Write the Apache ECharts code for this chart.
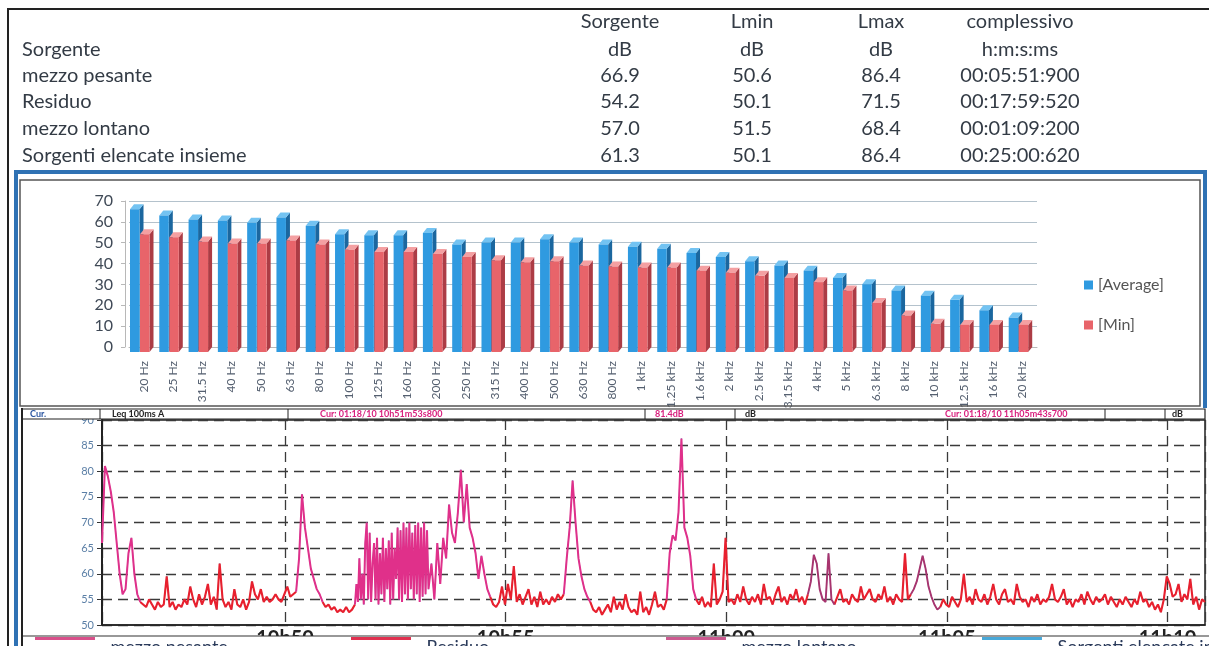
<!DOCTYPE html>
<html><head><meta charset="utf-8">
<script src="https://cdn.jsdelivr.net/npm/echarts@6/dist/echarts.min.js"></script>
<style>html,body{margin:0;padding:0;background:#fff}#c{width:1209px;height:646px}</style>
</head><body><div id="c"></div><script>
// ---------- summary table ----------
const tableHeadTop = ['Sorgente', 'Lmin', 'Lmax', 'complessivo'];
const tableHeadUnits = ['dB', 'dB', 'dB', 'h:m:s:ms'];
const tableFirstHead = 'Sorgente';
const sourceNames = ['mezzo pesante', 'Residuo', 'mezzo lontano', 'Sorgenti elencate insieme'];
const sourceLeq = ['66.9', '54.2', '57.0', '61.3'];
const sourceLmin = ['50.6', '50.1', '51.5', '50.1'];
const sourceLmax = ['86.4', '71.5', '68.4', '86.4'];
const sourceDuration = ['00:05:51:900', '00:17:59:520', '00:01:09:200', '00:25:00:620'];

// ---------- 1/3 octave spectrum ----------
const freqBands = ['20 Hz','25 Hz','31.5 Hz','40 Hz','50 Hz','63 Hz','80 Hz','100 Hz','125 Hz','160 Hz','200 Hz','250 Hz','315 Hz','400 Hz','500 Hz','630 Hz','800 Hz','1 kHz','1.25 kHz','1.6 kHz','2 kHz','2.5 kHz','3.15 kHz','4 kHz','5 kHz','6.3 kHz','8 kHz','10 kHz','12.5 kHz','16 kHz','20 kHz'];
const avgDb = [68.5,65.5,63.5,63,62,64.5,60.5,56.5,56,56,57,51.5,52.5,52.5,54,52.5,51.5,50.5,49.5,47.5,45.5,43.5,41.5,39,35.5,32.5,29.5,27,25,20,16.5];
const minDb = [56.5,55,53,52,52,53.5,51.5,49,48,48,47,45.5,44,43,43.5,41.5,41,40.5,40.5,39,38,36.5,35.5,33.5,29.5,23.5,17.5,13.5,13,13,13];
const spectrumTicks = [0, 70, 10];

// ---------- time history (seconds since 10h00, dB) ----------
const timeRange = [2751, 4251];
const levelTicks = [50, 90, 5];
const pesanteStart = [2751, 3015, 3095, 3195, 3379, 3519];
const pesanteStep = [4, 4, 2, 4, 4, 4];
const pesanteA = [66,81,79,76,72,66,60,56,57,64,67,60,56,54.5];
const pesanteB = [56.5,63,75.5,69,65,61,59,57,56,54.5];
const pesanteC = [54,58,54.5,63,55,60,54,66,70,55,68,54.5,62,66,55,67,54,64,56,67,54.5,65,57,66.5,54,68,55,65,59,69,55,68.5,54.5,70,56,69,55,70,57,68,55,69.5,56,70,54.5,69,55.5,70,56,68.5,57];
const pesanteD = [57,62,55,66,58,67,63,73.5,68,66,72,80.3,70,77.5,69,67,64,59,63.5,60,57,55.5];
const pesanteE = [56,63,69,78.2,70,63,59.5,57,55.5,54.5];
const pesanteF = [55,64,67.5,66.5,72,86.4,69,67,63.5,57,55];

const residuoStart = [2803, 3051, 3279, 3415, 3559, 3747, 3891];
const residuoStep = [4, 4, 4, 4, 4, 4, 4];
const residuoA = [54.5,54,53.5,55,54,53,54.5,53.5,54,59.5,53.5,54.5,53,54,53.5,55,54,57.5,55,53.5,56,54,55.5,58,54,55.5,53,62,55,53.5,54.5,53,57,54,53.5,55,53,54.5,58.5,56,55,57,54.5,55.5,54.5,55,56,55,54.5,56,57.5,55.5,56,56.5];
const residuoB = [54.5,53.5,54,53,53.5,52.5,53,52.5,53.5,52.5,53,54];
const residuoC = [55.5,54,53.5,54.5,57.5,54,58,55,61.5,54.5,56,54,55.5,57,54,55.5,53.5,56.5,54,55,54,55.5,54.5,56,55,56];
const residuoD = [54.5,53,52.5,53.5,52,53,54,52.5,55.5,53,54.5,53,56,53.5,52.5,53,52,56.5,52.5,53.5,52,54,56.5,53.5,54,53,55];
const residuoE = [55,54,55.5,53.5,54.5,53.5,62,54,55,56.5,67,54.5,55,54,56,54.5,57.5,55,54,55.5,54.5,56,54,58,55,55.5,54,56,57.5,54.5,55.5,54,56,55,57,54.5,55.5,54,56];
const residuoF = [54,55.5,57,54.5,55,54,56,55,54.5,57.5,55,56,57,55,54.5,56,55,57.5,54.5,55.5,54,56,55,54.5,64,55,56];
const residuoG = [53.5,55,54,53.5,55.5,54.5,53.5,55,60,54.5,55.5,54,57,55,54.5,56,54,55.5,58,55,54,56,57,54.5,55,54,58,55.5,54.5,55,53.5,55.5,54.5,56,54,55,54.5,55.5,58,55,54.5,55.5,57,54,55,53.5,55,54.5,56,54,56.5,55,54,55.5,54.5,55,56,54,55.5,54.5,53.5,55,54,55.5,54.5,53.5,55,54,56.5,54.5,55,53.5,54.5,53,54,52.5,55,59.5,58,55.5,56,58,54.5,56,55,59,54,55.5,53,55,54.5];

const lontanoStart = [3711, 3851];
const lontanoStep = [4, 4];
const lontanoA = [56,58.5,63.7,62,57,55,54.5,64,55,54];
const lontanoB = [56,57,58.5,61,63.5,61,57.5,55.5,54,53,53.5];

const seriesNames = ['mezzo pesante', 'Residuo', 'mezzo lontano', 'Sorgenti elencate insieme'];

// ---------- helpers ----------
function buildSeries(starts, steps, segs) {
  const out = [];
  segs.forEach((vals, k) => {
    vals.forEach((v, i) => out.push([starts[k] + i * steps[k], v]));
    out.push([starts[k] + (vals.length - 1) * steps[k] + 0.5, null]);
  });
  return out;
}
const pesanteData = buildSeries(pesanteStart, pesanteStep, [pesanteA, pesanteB, pesanteC, pesanteD, pesanteE, pesanteF]);
const residuoData = buildSeries(residuoStart, residuoStep, [residuoA, residuoB, residuoC, residuoD, residuoE, residuoF, residuoG]);
const lontanoData = buildSeries(lontanoStart, lontanoStep, [lontanoA, lontanoB]);
const allData = pesanteData.concat(residuoData, lontanoData).filter(p => p[1] != null).sort((a, b) => a[0] - b[0]);

function make3dBar(colors, offFront, wFront) {
  return function (params, api) {
    const i = api.value(0), v = api.value(1);
    const top = api.coord([i, v]);
    const base = api.coord([i, 0]);
    const band = api.size([1, 0])[0];
    const dx = 4, dy = 5;
    const x0 = top[0] - band / 2 - dx + offFront;
    const w = wFront;
    const ty = top[1] + dy, by = base[1] + dy;
    return { type: 'group', children: [
      { type: 'polygon', shape: { points: [[x0 + w, ty], [x0 + w + dx, ty - dy], [x0 + w + dx, by - dy], [x0 + w, by]] }, style: { fill: colors.side } },
      { type: 'polygon', shape: { points: [[x0, ty], [x0 + w, ty], [x0 + w + dx, ty - dy], [x0 + dx, ty - dy]] }, style: { fill: colors.top } },
      { type: 'rect', shape: { x: x0, y: ty, width: w, height: by - ty }, style: { fill: colors.front } }
    ]};
  };
}

const FONT = 'Lato, "Noto Sans", sans-serif';
const TXT = '#333b45';

// ---------- graphic: table + frames ----------
const g = [];
const colX = [620, 752, 881, 1020];
const rowY = [22, 50, 76, 102, 129, 156];
function txt(x, y, s, align) {
  g.push({ type: 'text', x: x, y: y, z: 20,
    style: { text: s, fill: TXT, font: '20px ' + FONT, textAlign: align, textVerticalAlign: 'middle' } });
}
tableHeadTop.forEach((s, k) => txt(colX[k], rowY[0], s, 'center'));
txt(22, rowY[1], tableFirstHead, 'left');
tableHeadUnits.forEach((s, k) => txt(colX[k], rowY[1], s, 'center'));
sourceNames.forEach((s, r) => {
  txt(22, rowY[r + 2], s, 'left');
  txt(colX[0], rowY[r + 2], sourceLeq[r], 'center');
  txt(colX[1], rowY[r + 2], sourceLmin[r], 'center');
  txt(colX[2], rowY[r + 2], sourceLmax[r], 'center');
  txt(colX[3], rowY[r + 2], sourceDuration[r], 'center');
});
// frames
g.push({ type: 'polyline', z: 20, shape: { points: [[8, 646], [8, 9], [1209, 9]] }, style: { stroke: '#222', lineWidth: 2, fill: null } });
g.push({ type: 'polyline', z: 20, shape: { points: [[16, 646], [16, 172], [1205, 172], [1205, 408]] }, style: { stroke: '#2f72b4', lineWidth: 4, fill: null } });
g.push({ type: 'rect', z: 1, shape: { x: 20, y: 180, width: 1180, height: 226 }, style: { stroke: '#555', lineWidth: 1.5, fill: null } });
g.push({ type: 'line', z: 20, shape: { x1: 22, y1: 408, x2: 22, y2: 646 }, style: { stroke: '#222', lineWidth: 2 } });
// header strip of the time-history panel
g.push({ type: 'rect', z: 15, shape: { x: 22, y: 409, width: 1183, height: 10 }, style: { stroke: '#222', lineWidth: 1.2, fill: '#fff' } });
[100, 288, 645, 735, 1105, 1165].forEach(x => g.push({ type: 'line', z: 16, shape: { x1: x, y1: 409, x2: x, y2: 419 }, style: { stroke: '#222', lineWidth: 1 } }));
const stripText = [[30, 'Cur.', '#2a55a0'], [112, 'Leq 100ms A', '#222'], [320, 'Cur: 01:18/10 10h51m53s800', '#d8207e'], [655, '81.4dB', '#d8207e'], [745, 'dB', '#222'], [945, 'Cur: 01:18/10 11h05m43s700', '#d8207e'], [1172, 'dB', '#222']];
stripText.forEach(t => g.push({ type: 'text', z: 17, x: t[0], y: 414, style: { text: t[1], fill: t[2], font: 'bold 9px ' + FONT, textVerticalAlign: 'middle' } }));
// bottom legend strip (cuts the time labels)
g.push({ type: 'rect', z: 15, shape: { x: 23, y: 636, width: 1186, height: 12 }, style: { fill: '#fff', stroke: null } });
g.push({ type: 'line', z: 16, shape: { x1: 22, y1: 636, x2: 1209, y2: 636 }, style: { stroke: '#333', lineWidth: 1.2 } });

// ---------- chart ----------
const chart = echarts.init(document.getElementById('c'), null, { renderer: 'canvas' });
const colPesante = '#e0308a', colResiduo = '#e8202e', colLontano = '#a8346e', colTutte = '#3a9ad8';
const legendIconColors = ['#d8508a', '#e03050', '#cc5a90', '#48a8d8'];
const legendPos = [35, 351, 666, 982];
const bottomLegends = seriesNames.map((n, k) => ({
  data: [n], left: legendPos[k], top: 637, padding: 0, z: 30,
  icon: 'path://M0,0h60v3h-60z M0,20h0.01v0.01h-0.01z',
  itemWidth: 63, itemHeight: 20, selectedMode: false,
  itemStyle: { color: legendIconColors[k], borderWidth: 0 },
  textStyle: { fontFamily: FONT, fontSize: 18, color: '#2a3a5a', padding: [0, 0, 0, 9] }
}));

chart.setOption({
  animation: false,
  backgroundColor: '#fff',
  graphic: { elements: g },
  legend: [{
    data: ['[Average]', '[Min]'], orient: 'vertical', left: 1079, top: 272, itemGap: 24,
    itemWidth: 9, itemHeight: 9, icon: 'rect', selectedMode: false,
    textStyle: { fontFamily: FONT, fontSize: 16, color: '#555' }
  }].concat(bottomLegends),
  grid: [
    { left: 129, right: 172, top: 201, bottom: 299, outerBoundsMode: 'none', containLabel: false },
    { left: 102, right: 4, top: 420, bottom: 21, outerBoundsMode: 'none', containLabel: false, show: true, borderColor: '#222', borderWidth: 1.5, backgroundColor: 'transparent' }
  ],
  xAxis: [
    { type: 'category', gridIndex: 0, data: freqBands, offset: 5,
      axisLine: { lineStyle: { color: '#b8b8b8' } },
      axisTick: { alignWithLabel: false, lineStyle: { color: '#b8b8b8' }, length: 4 },
      axisLabel: { rotate: 90, interval: 0, fontSize: 12, color: '#556070', fontFamily: FONT, margin: 9 } },
    { type: 'value', gridIndex: 1, min: timeRange[0], max: timeRange[1], splitNumber: 5,
      axisLine: { lineStyle: { color: '#222', width: 1.5 } },
      axisTick: { show: false },
      axisLabel: { showMinLabel: false, showMaxLabel: false, fontSize: 20, fontWeight: 'bold', color: '#222', fontFamily: FONT, margin: 4,
        formatter: v => (10 + Math.floor(v / 3600)) + 'h' + String(Math.floor((v % 3600) / 60)).padStart(2, '0') },
      splitLine: { show: true, lineStyle: { color: '#3a3a3a', width: 1.3, type: [10, 6] } } }
  ],
  yAxis: [
    { type: 'value', gridIndex: 0, min: spectrumTicks[0], max: spectrumTicks[1], interval: spectrumTicks[2], offset: 4,
      axisLine: { show: true, lineStyle: { color: '#b8b8b8' } },
      axisTick: { show: true, length: 4, lineStyle: { color: '#b8b8b8' } },
      axisLabel: { fontSize: 16, color: '#3f4956', fontFamily: FONT, margin: 12, padding: [10, 0, 0, 0] },
      splitLine: { lineStyle: { color: '#b4c2cc', width: 1 } } },
    { type: 'value', gridIndex: 1, min: levelTicks[0], max: levelTicks[1], interval: levelTicks[2],
      axisLine: { show: true, lineStyle: { color: '#222', width: 2 } },
      axisTick: { show: true, length: 5, lineStyle: { color: '#333' } },
      axisLabel: { fontSize: 11, color: '#5b7fa6', fontFamily: FONT, margin: 8 },
      splitLine: { show: true, lineStyle: { color: '#3a3a3a', width: 1.3, type: [10, 6] } } }
  ],
  series: [
    { name: '[Average]', type: 'custom', xAxisIndex: 0, yAxisIndex: 0, itemStyle: { color: '#2f9ae0' },
      renderItem: make3dBar({ front: '#2f9ae0', side: '#1b679f', top: '#73c3f2' }, 5, 9.5),
      encode: { x: 0, y: 1 }, data: avgDb.map((v, i) => [i, v]) },
    { name: '[Min]', type: 'custom', xAxisIndex: 0, yAxisIndex: 0, itemStyle: { color: '#e8646a' },
      renderItem: make3dBar({ front: '#e8646a', side: '#ac3c45', top: '#f4a0a2' }, 15, 9.5),
      encode: { x: 0, y: 1 }, data: minDb.map((v, i) => [i, v]) },
    { name: seriesNames[3], type: 'line', xAxisIndex: 1, yAxisIndex: 1, z: 1, symbol: 'none', color: colTutte,
      lineStyle: { width: 0.8, color: colTutte }, data: allData },
    { name: seriesNames[1], type: 'line', xAxisIndex: 1, yAxisIndex: 1, z: 3, symbol: 'none', color: colResiduo,
      lineStyle: { width: 2.1, color: colResiduo }, data: residuoData },
    { name: seriesNames[0], type: 'line', xAxisIndex: 1, yAxisIndex: 1, z: 4, symbol: 'none', color: colPesante,
      lineStyle: { width: 2, color: colPesante }, data: pesanteData },
    { name: seriesNames[2], type: 'line', xAxisIndex: 1, yAxisIndex: 1, z: 4, symbol: 'none', color: colLontano,
      lineStyle: { width: 1.9, color: colLontano }, data: lontanoData }
  ]
});
</script></body></html>
